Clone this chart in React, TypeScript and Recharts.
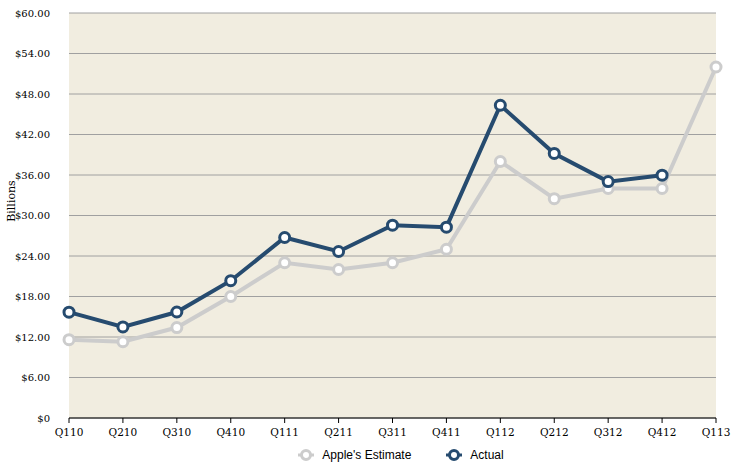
import React from 'react';
import { LineChart, Line, XAxis, YAxis, CartesianGrid, Legend } from 'recharts';

const quarters = ['Q110', 'Q210', 'Q310', 'Q410', 'Q111', 'Q211', 'Q311', 'Q411', 'Q112', 'Q212', 'Q312', 'Q412', 'Q113'];
const estimate = [11.6, 11.3, 13.4, 18.0, 23.0, 22.0, 23.0, 25.0, 38.0, 32.5, 34.0, 34.0, 52.0];
const actual = [15.68, 13.5, 15.7, 20.34, 26.74, 24.67, 28.57, 28.27, 46.33, 39.19, 35.02, 35.97, null];
const yTicks = [0, 6, 12, 18, 24, 30, 36, 42, 48, 54, 60];

const data = quarters.map((q, i) => ({ q, estimate: estimate[i], actual: actual[i] }));

const serif = 'Georgia, "DejaVu Serif", serif';
const ESTIMATE = '#cccccc';
const ACTUAL = '#264b6f';

const fmt = (v: number) => (v === 0 ? '$0' : `$${v.toFixed(2)}`);

const LegendContent = () => (
  <div style={{ display: 'flex', justifyContent: 'center', gap: 35, fontFamily: 'Arial, "Liberation Sans", sans-serif', fontSize: 12, color: '#000', paddingLeft: 86, paddingTop: 6 }}>
    {[{ name: "Apple's Estimate", c: ESTIMATE }, { name: 'Actual', c: ACTUAL }].map((s) => (
      <div key={s.name} style={{ display: 'flex', alignItems: 'center' }}>
        <svg width={16} height={14} style={{ marginRight: 8 }}>
          <line x1={0} y1={7} x2={16} y2={7} stroke={s.c} strokeWidth={3} />
          <circle cx={8} cy={7} r={4.5} fill="#fff" stroke={s.c} strokeWidth={3} />
        </svg>
        <span>{s.name}</span>
      </div>
    ))}
  </div>
);

const BillionsLabel = () => (
  <text x={11} y={201} transform="rotate(-90, 11, 201)" textAnchor="middle" dominantBaseline="central" fontFamily={serif} fontSize={11} fill="#000">
    Billions
  </text>
);

export default function App() {
  return (
    <div style={{ position: 'absolute', left: 0, top: 0, background: '#fff' }}>
      <LineChart width={737} height={473} data={data} margin={{ top: 13, right: 21, left: 0, bottom: 7 }}>
        <CartesianGrid vertical={false} stroke="#a0a0a0" strokeWidth={1} fill="#f1ede0" />
        <XAxis
          dataKey="q"
          stroke="#000"
          tickLine={{ stroke: '#000' }}
          tickSize={5}
          tickMargin={6}
          tick={{ fontFamily: serif, fontSize: 10.5, fill: '#000' }}
          interval={0}
          height={24}
        />
        <YAxis
          domain={[0, 60]}
          ticks={yTicks}
          tickFormatter={fmt}
          axisLine={false}
          tickLine={false}
          width={69}
          tickMargin={13}
          tick={{ fontFamily: serif, fontSize: 10, fill: '#000' }}
          label={<BillionsLabel />}
        />
        <Legend verticalAlign="bottom" height={24} content={<LegendContent />} />
        <Line
          type="linear"
          dataKey="estimate"
          name="Apple's Estimate"
          stroke={ESTIMATE}
          strokeWidth={4}
          dot={{ r: 5, fill: '#fff', stroke: ESTIMATE, strokeWidth: 3 }}
          isAnimationActive={false}
        />
        <Line
          type="linear"
          dataKey="actual"
          name="Actual"
          stroke={ACTUAL}
          strokeWidth={4}
          dot={{ r: 5, fill: '#fff', stroke: ACTUAL, strokeWidth: 3 }}
          isAnimationActive={false}
        />
      </LineChart>
    </div>
  );
}
